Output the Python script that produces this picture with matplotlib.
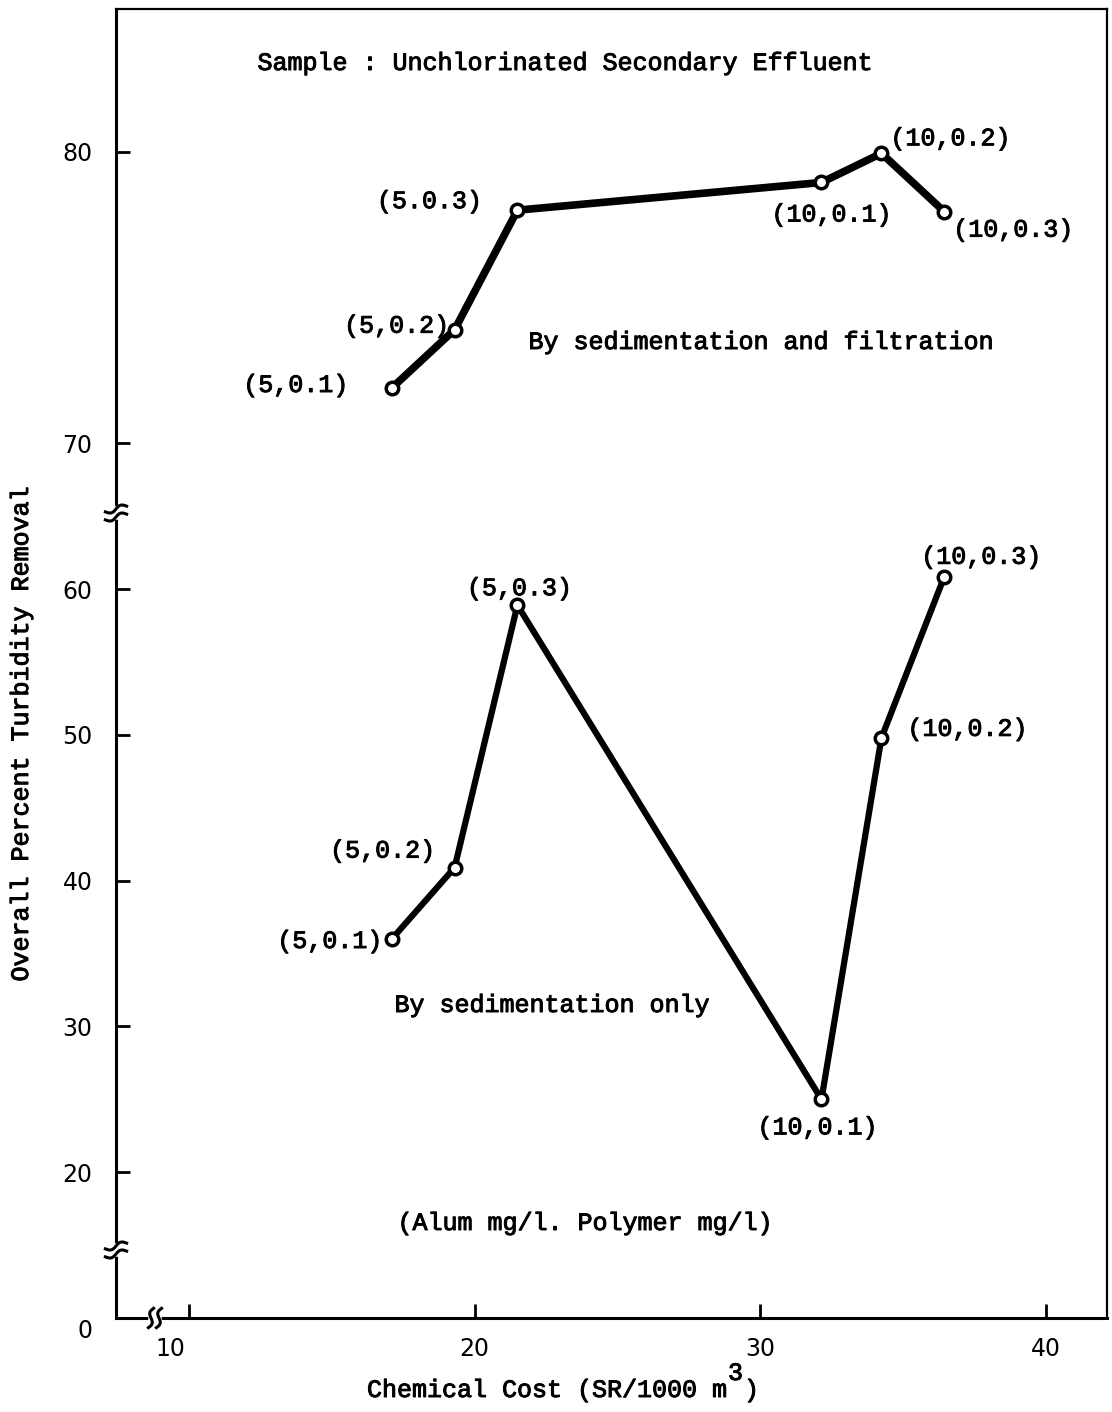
import numpy as np
import matplotlib
matplotlib.use("Agg")
import matplotlib.pyplot as plt
import matplotlib.patheffects as pe
from matplotlib.lines import Line2D
from matplotlib.transforms import ScaledTranslation

# chemical cost (SR/1000 m3) for each alum/polymer dose
cost = [17.1, 19.3, 21.5, 32.15, 34.25, 36.45]
dose_filt = ["(5,0.1)", "(5,0.2)", "(5.0.3)", "(10,0.1)", "(10,0.2)", "(10,0.3)"]
dose_sed = ["(5,0.1)", "(5,0.2)", "(5,0.3)", "(10,0.1)", "(10,0.2)", "(10,0.3)"]

# overall percent turbidity removal
sed_filt = [71.9, 73.9, 78.0, 78.95, 79.95, 77.95]
sed_only = [36.0, 40.9, 58.9, 25.0, 49.8, 60.85]

x_ticks = [10, 20, 30, 40]
y_ticks = [0, 20, 30, 40, 50, 60, 70, 80]

# label offsets in pixels (dx, dy)
off_filt = [(-96, 3), (-58, 4), (-88, 9), (10, -32), (69, 15), (69, -18)]
off_sed = [(-62, -2), (-72, 17), (2, 17), (-4, -28), (86, 9), (37, 20)]

W, H = 1112, 1412
MONO = "Liberation Mono"
# typewriter look: regular mono with a thin stroke to darken it
INK = [pe.withStroke(linewidth=0.7, foreground="black")]
TXT = dict(va="center", fontsize=18, family=MONO, path_effects=INK)

# broken y axis: squeezed 0..20, normal 20..65, doubled 70..85
brk_v = [-10, 0, 5, 14.7, 65.3, 67.7, 100]
brk_f = [0, 10, 14.6, 14.7, 65.3, 65.4, 130]


def fwd(v):
    return np.interp(v, brk_v, brk_f)


def inv(f):
    return np.interp(f, brk_f, brk_v)


def px(x, y):
    return x / W, 1 - y / H


fig = plt.figure(figsize=(W / 100, H / 100), dpi=100)
ax = fig.add_axes([116 / W, 1 - 1318 / H, (1107 - 116) / W, (1318 - 9) / H])
ax.set_yscale("function", functions=(fwd, inv))
ax.set_xlim(7.44, 42.15)
ax.set_ylim(0, 84.9)

ax.plot(cost, sed_filt, color="black", lw=5.5, marker="o", ms=9,
        mfc="white", mec="black", mew=2.5, zorder=3)
ax.plot(cost, sed_only, color="black", lw=4.5, marker="o", ms=9,
        mfc="white", mec="black", mew=2.5, zorder=3)

for xv, yv, lab, (dx, dy) in zip(cost, sed_filt, dose_filt, off_filt):
    ax.annotate(lab, (xv, yv), xytext=(dx, dy), textcoords="offset pixels",
                ha="center", **TXT)
for xv, yv, lab, (dx, dy) in zip(cost, sed_only, dose_sed, off_sed):
    ax.annotate(lab, (xv, yv), xytext=(dx, dy), textcoords="offset pixels",
                ha="center", **TXT)

ax.set_xticks(x_ticks)
ax.set_yticks(y_ticks)
ax.minorticks_off()
ax.tick_params(direction="in", length=10, width=2, labelsize=17)
ax.tick_params(axis="x", pad=14)
ax.tick_params(axis="y", pad=17)
for lab in ax.get_xticklabels() + ax.get_yticklabels():
    lab.set_family("DejaVu Sans")

# typed labels that sit a bit off their ticks
ax.get_xticklabels()[0].set_transform(
    ax.get_xticklabels()[0].get_transform() + ScaledTranslation(-0.19, 0, fig.dpi_scale_trans))
ax.get_yticklabels()[0].set_transform(
    ax.get_yticklabels()[0].get_transform() + ScaledTranslation(0, -0.10, fig.dpi_scale_trans))

for side in ["left", "bottom"]:
    ax.spines[side].set_linewidth(2.2)
for side in ["top", "right"]:
    ax.spines[side].set_linewidth(1.6)

# text inside the plot
fig.text(*px(565, 63), "Sample : Unchlorinated Secondary Effluent", ha="center", **TXT)
fig.text(*px(761, 342), "By sedimentation and filtration", ha="center", **TXT)
fig.text(*px(552, 1005), "By sedimentation only", ha="center", **TXT)
fig.text(*px(585, 1223), "(Alum mg/l. Polymer mg/l)", ha="center", **TXT)

# axis titles (typed superscript 3 at full size)
fig.text(*px(367, 1390), "Chemical Cost (SR/1000 m", ha="left", **TXT)
fig.text(*px(728, 1373), "3", ha="left", **TXT)
fig.text(*px(744, 1390), ")", ha="left", **TXT)
fig.text(*px(21, 734), "Overall Percent Turbidity Removal", rotation=90,
         ha="center", **TXT)


def squiggle(cx, cy, angle, length=22, amp=2.5):
    t = np.linspace(-0.5, 0.5, 40)
    a = np.deg2rad(angle)
    ux, uy = np.cos(a), np.sin(a)
    nx, ny = -uy, ux
    w = amp * np.sin(2 * np.pi * t)
    xs = cx + t * length * ux + w * nx
    ys = cy - (t * length * uy + w * ny)
    return [px(x, y) for x, y in zip(xs, ys)]


def axis_break(cx, cy, vertical_axis):
    if vertical_axis:
        gap = [px(cx, cy - 4), px(cx, cy + 4)]
        strokes = [squiggle(cx, cy - 4, 15), squiggle(cx, cy + 4, 15)]
    else:
        gap = [px(cx - 4, cy), px(cx + 4, cy)]
        strokes = [squiggle(cx - 4, cy, 75, 20), squiggle(cx + 4, cy, 75, 20)]
    g = np.array(gap)
    fig.add_artist(Line2D(g[:, 0], g[:, 1], transform=fig.transFigure,
                          color="white", lw=4, zorder=5))
    for s in strokes:
        s = np.array(s)
        fig.add_artist(Line2D(s[:, 0], s[:, 1], transform=fig.transFigure,
                              color="black", lw=2.2, zorder=6))


axis_break(116, 513, True)
axis_break(116, 1250, True)
axis_break(155, 1318, False)

fig.savefig("out.png", dpi=100, facecolor="white")
